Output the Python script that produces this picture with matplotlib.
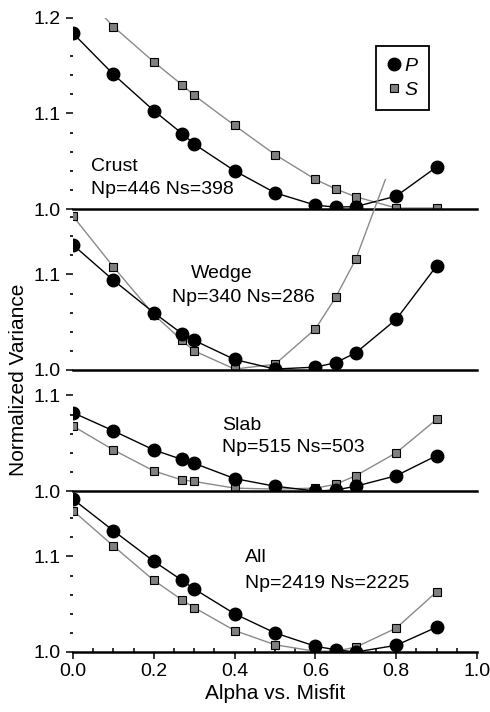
import numpy as np
import matplotlib
matplotlib.use("Agg")
import matplotlib.pyplot as plt
from matplotlib.lines import Line2D

plt.rcParams['font.family'] = ['Liberation Sans', 'DejaVu Sans']

# alpha values (x axis)
alpha = [0.0, 0.1, 0.2, 0.27, 0.3, 0.4, 0.5, 0.6, 0.65, 0.7, 0.8, 0.9]

# normalized variance, P and S, per region
crust_p = [1.184, 1.141, 1.103, 1.079, 1.068, 1.040, 1.017, 1.004, 1.002, 1.0025, 1.0135, 1.044]
crust_s = [1.236, 1.191, 1.154, 1.130, 1.119, 1.0875, 1.057, 1.031, 1.021, 1.0128, 1.001, 1.001]
wedge_p = [1.131, 1.094, 1.060, 1.038, 1.031, 1.011, 1.001, 1.003, 1.0076, 1.018, 1.053, 1.109]
wedge_s = [1.161, 1.108, 1.058, 1.031, 1.020, 1.001, 1.006, 1.043, 1.076, 1.116, 1.23, 1.38]
slab_p = [1.082, 1.063, 1.043, 1.033, 1.029, 1.013, 1.005, 1.000, 1.001, 1.005, 1.016, 1.037]
slab_s = [1.068, 1.043, 1.021, 1.0115, 1.010, 1.003, 1.002, 1.003, 1.007, 1.016, 1.040, 1.075]
all_p = [1.160, 1.127, 1.095, 1.075, 1.066, 1.040, 1.020, 1.006, 1.0024, 1.000, 1.007, 1.026]
all_s = [1.148, 1.111, 1.075, 1.0545, 1.0465, 1.0225, 1.0076, 1.0007, 1.001, 1.005, 1.025, 1.063]

names = ["Crust", "Wedge", "Slab", "All"]
counts = ["Np=446 Ns=398", "Np=340 Ns=286", "Np=515 Ns=503", "Np=2419 Ns=2225"]
p_vals = [crust_p, wedge_p, slab_p, all_p]
s_vals = [crust_s, wedge_s, slab_s, all_s]

# panel layout (pixels from top of figure for the 1.0 baseline)
W, H = 490, 712
base_px = [209, 370, 491, 652]
top_minor = [1.16, 1.16, 1.08, 1.14]
major_ticks = [[1.0, 1.1, 1.2], [1.0, 1.1], [1.0, 1.1], [1.0, 1.1]]
# label positions (x, y of name, x, y of counts)
label_pos = [(0.045, 1.045, 0.045, 1.020),
             (0.292, 1.101, 0.245, 1.076),
             (0.369, 1.069, 0.369, 1.046),
             (0.426, 1.099, 0.426, 1.072)]

fig = plt.figure(figsize=(W / 100, H / 100), dpi=100)
left = 73 / W
width = 404 / W
height = 191 / H

grey = '#808080'
for i in range(4):
    ax = fig.add_axes([left, 1 - base_px[i] / H, width, height])
    ax.set_facecolor('none')
    ax.set_xlim(0, 1.0)
    ax.set_ylim(1.0, 1.2)

    ax.plot(alpha, s_vals[i], color='#8a8a8a', lw=1.0, marker='s', ms=6,
            mfc=grey, mec='black', mew=0.8, zorder=3)
    ax.plot(alpha, p_vals[i], color='black', lw=1.0, marker='o', ms=9,
            mfc='black', mec='black', zorder=4)

    for s in ['left', 'top', 'right']:
        ax.spines[s].set_visible(False)
    ax.spines['bottom'].set_linewidth(1.8)
    ax.spines['bottom'].set_zorder(5)

    ax.set_yticks(major_ticks[i])
    ax.set_yticklabels(["%.1f" % v for v in major_ticks[i]])
    minors = [round(v, 2) for v in np.arange(1.02, top_minor[i] + 0.001, 0.02)
              if abs(v - 1.1) > 0.005]
    ax.set_yticks(minors, minor=True)
    ax.tick_params(axis='y', which='major', direction='out', length=5, width=1.1,
                   labelsize=14, pad=4)
    ax.tick_params(axis='y', which='minor', direction='out', length=2.5, width=1.2)

    if i < 3:
        ax.tick_params(axis='x', which='both', bottom=False, labelbottom=False)
    else:
        ax.set_xticks([0.0, 0.2, 0.4, 0.6, 0.8, 1.0])
        ax.set_xticklabels(["0.0", "0.2", "0.4", "0.6", "0.8", "1.0"])
        ax.set_xticks(np.arange(0.05, 1.0, 0.05), minor=True)
        ax.tick_params(axis='x', which='major', direction='out', length=5, width=1.1,
                       labelsize=14, pad=3)
        ax.tick_params(axis='x', which='minor', direction='in', length=3, width=1.1)
        ax.set_xlabel("Alpha vs. Misfit", fontsize=15, labelpad=3)

    xn, yn, xc, yc = label_pos[i]
    ax.text(xn, yn, names[i], fontsize=14, va='center', ha='left')
    ax.text(xc, yc, counts[i], fontsize=14, va='center', ha='left')

fig.text(18 / W, 1 - 380 / H, "Normalized Variance", rotation=90,
         fontsize=15, va='center', ha='center')

handles = [Line2D([], [], ls='none', marker='o', ms=9, color='black'),
           Line2D([], [], ls='none', marker='s', ms=5.5, mfc=grey, mec='black', mew=0.8)]
leg = fig.legend(handles, ['P', 'S'], loc='upper left',
                 bbox_to_anchor=(376 / W, 1 - 46 / H), frameon=True, fancybox=False,
                 edgecolor='black', framealpha=1, handlelength=0.6, handletextpad=0.25,
                 labelspacing=0.3, borderpad=0.6, borderaxespad=0,
                 prop={'style': 'italic', 'size': 14})
leg.get_frame().set_linewidth(1.3)

fig.savefig("out.png", dpi=100)
